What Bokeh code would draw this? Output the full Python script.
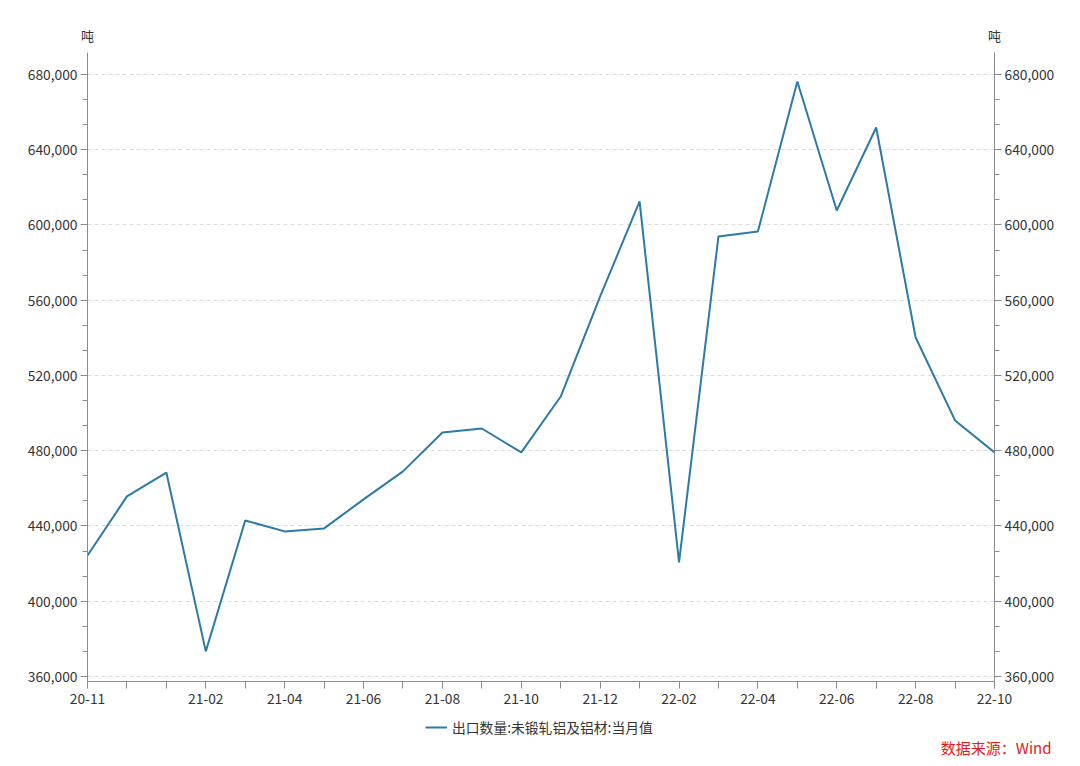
from bokeh.plotting import figure
from bokeh.layouts import column
from bokeh.models import (LinearAxis, FixedTicker, NumeralTickFormatter, Range1d,
                          Legend, LegendItem, Label, ColumnDataSource)
from bokeh.embed import file_html
from bokeh.resources import INLINE

months = ["20-11", "20-12", "21-01", "21-02", "21-03", "21-04", "21-05", "21-06",
          "21-07", "21-08", "21-09", "21-10", "21-11", "21-12", "22-01", "22-02",
          "22-03", "22-04", "22-05", "22-06", "22-07", "22-08", "22-09", "22-10"]
values = [424300, 455700, 468400, 373300, 442900, 437100, 438700, 454100,
          469000, 489700, 491800, 479100, 508800, 562000, 612500, 420600,
          593900, 596500, 676300, 607700, 651800, 540200, 496100, 479100]
shown_labels = ["20-11", "21-02", "21-04", "21-06", "21-08", "21-10", "21-12",
                "22-02", "22-04", "22-06", "22-08", "22-10"]
y_ticks = [360000, 400000, 440000, 480000, 520000, 560000, 600000, 640000, 680000]
series_name = "出口数量:未锻轧铝及铝材:当月值"
unit = "吨"
source_text = "数据来源：Wind"

FONT = "Noto Sans CJK SC"
LINE_COLOR = "#2b7ba6"
AXIS_COLOR = "#8c8c8c"
TEXT_COLOR = "#333333"

x = list(range(len(months)))
src = ColumnDataSource(dict(x=x, y=values))

y0, y1 = 357300, 691700
p = figure(width=1080, height=715, output_backend="svg", toolbar_location=None,
           x_range=Range1d(0, len(months) - 1), y_range=Range1d(y0, y1),
           min_border_left=87, min_border_right=86, min_border_top=52, min_border_bottom=34)
p.outline_line_color = None
p.background_fill_color = "white"
p.border_fill_color = "white"

r = p.line("x", "y", source=src, line_color=LINE_COLOR, line_width=2)

def style_axis(ax):
    ax.axis_line_color = AXIS_COLOR
    ax.major_tick_line_color = AXIS_COLOR
    ax.minor_tick_line_color = AXIS_COLOR
    ax.major_tick_out = 7
    ax.major_tick_in = 0
    ax.minor_tick_out = 5
    ax.minor_tick_in = 0
    ax.major_label_text_font = FONT
    ax.major_label_text_font_size = "13.8px"
    ax.major_label_text_color = TEXT_COLOR

# x axis
xa = p.xaxis[0]
xa.ticker = FixedTicker(ticks=x)
xa.major_label_overrides = {i: (m if m in shown_labels else "") for i, m in enumerate(months)}
style_axis(xa)
xa.minor_tick_line_color = None
xa.major_label_standoff = 4

# y axes
minor = []
for a, b in zip(y_ticks[:-1], y_ticks[1:]):
    step = (b - a) / 3
    minor += [a + step, a + 2 * step]
minor = [m for m in minor if y0 <= m <= y1]

ya = p.yaxis[0]
ya.ticker = FixedTicker(ticks=y_ticks, minor_ticks=minor)
ya.formatter = NumeralTickFormatter(format="0,0")
style_axis(ya)
ya.major_label_standoff = 3

yr = LinearAxis(ticker=FixedTicker(ticks=y_ticks, minor_ticks=minor),
                formatter=NumeralTickFormatter(format="0,0"))
style_axis(yr)
yr.major_label_standoff = 3
p.add_layout(yr, "right")

p.xgrid.grid_line_color = None
p.ygrid.ticker = FixedTicker(ticks=y_ticks)
p.ygrid.grid_line_color = "#dcdcdc"
p.ygrid.grid_line_dash = "4 3"
p.ygrid.grid_line_width = 1

# unit labels (side panel, positioned by data coordinates)
for xv in (0, len(months) - 1):
    p.add_layout(Label(x=xv, y=y1, y_offset=17, text=unit, text_align="center",
                       text_baseline="middle", text_font=FONT, text_font_size="13px",
                       text_color=TEXT_COLOR), "above")

# footer strip: legend (in its frame) + source (in its bottom panel)
foot = figure(width=1080, height=51, output_backend="svg", toolbar_location=None,
              x_axis_type=None, y_axis_type=None, min_border=0, min_border_bottom=21,
              x_range=p.x_range, y_range=Range1d(0, 1))
foot.outline_line_color = None
foot.grid.visible = False
foot.border_fill_color = "white"
foot.background_fill_color = "white"
# legend proxy: same series, lying outside this strip's visible range
proxy = foot.line(x=x[:2], y=values[:2], line_color=LINE_COLOR, line_width=2)

legend = Legend(items=[LegendItem(label=series_name, renderers=[proxy])],
                location=(338, 8), orientation="horizontal",
                label_text_font=FONT, label_text_font_size="13.8px",
                label_text_color=TEXT_COLOR, glyph_width=22, glyph_height=14,
                label_standoff=5, border_line_color=None, background_fill_alpha=0,
                padding=0, margin=0)
foot.add_layout(legend)

foot.add_layout(Label(x=len(months) - 1, y=0, x_offset=57, y_offset=-2, text=source_text,
                      text_align="right", text_baseline="middle", text_font=FONT,
                      text_font_size="15px", text_color="#e02020"), "below")

layout = column(p, foot, spacing=0)
open("out.html", "w").write(file_html(layout, INLINE))
